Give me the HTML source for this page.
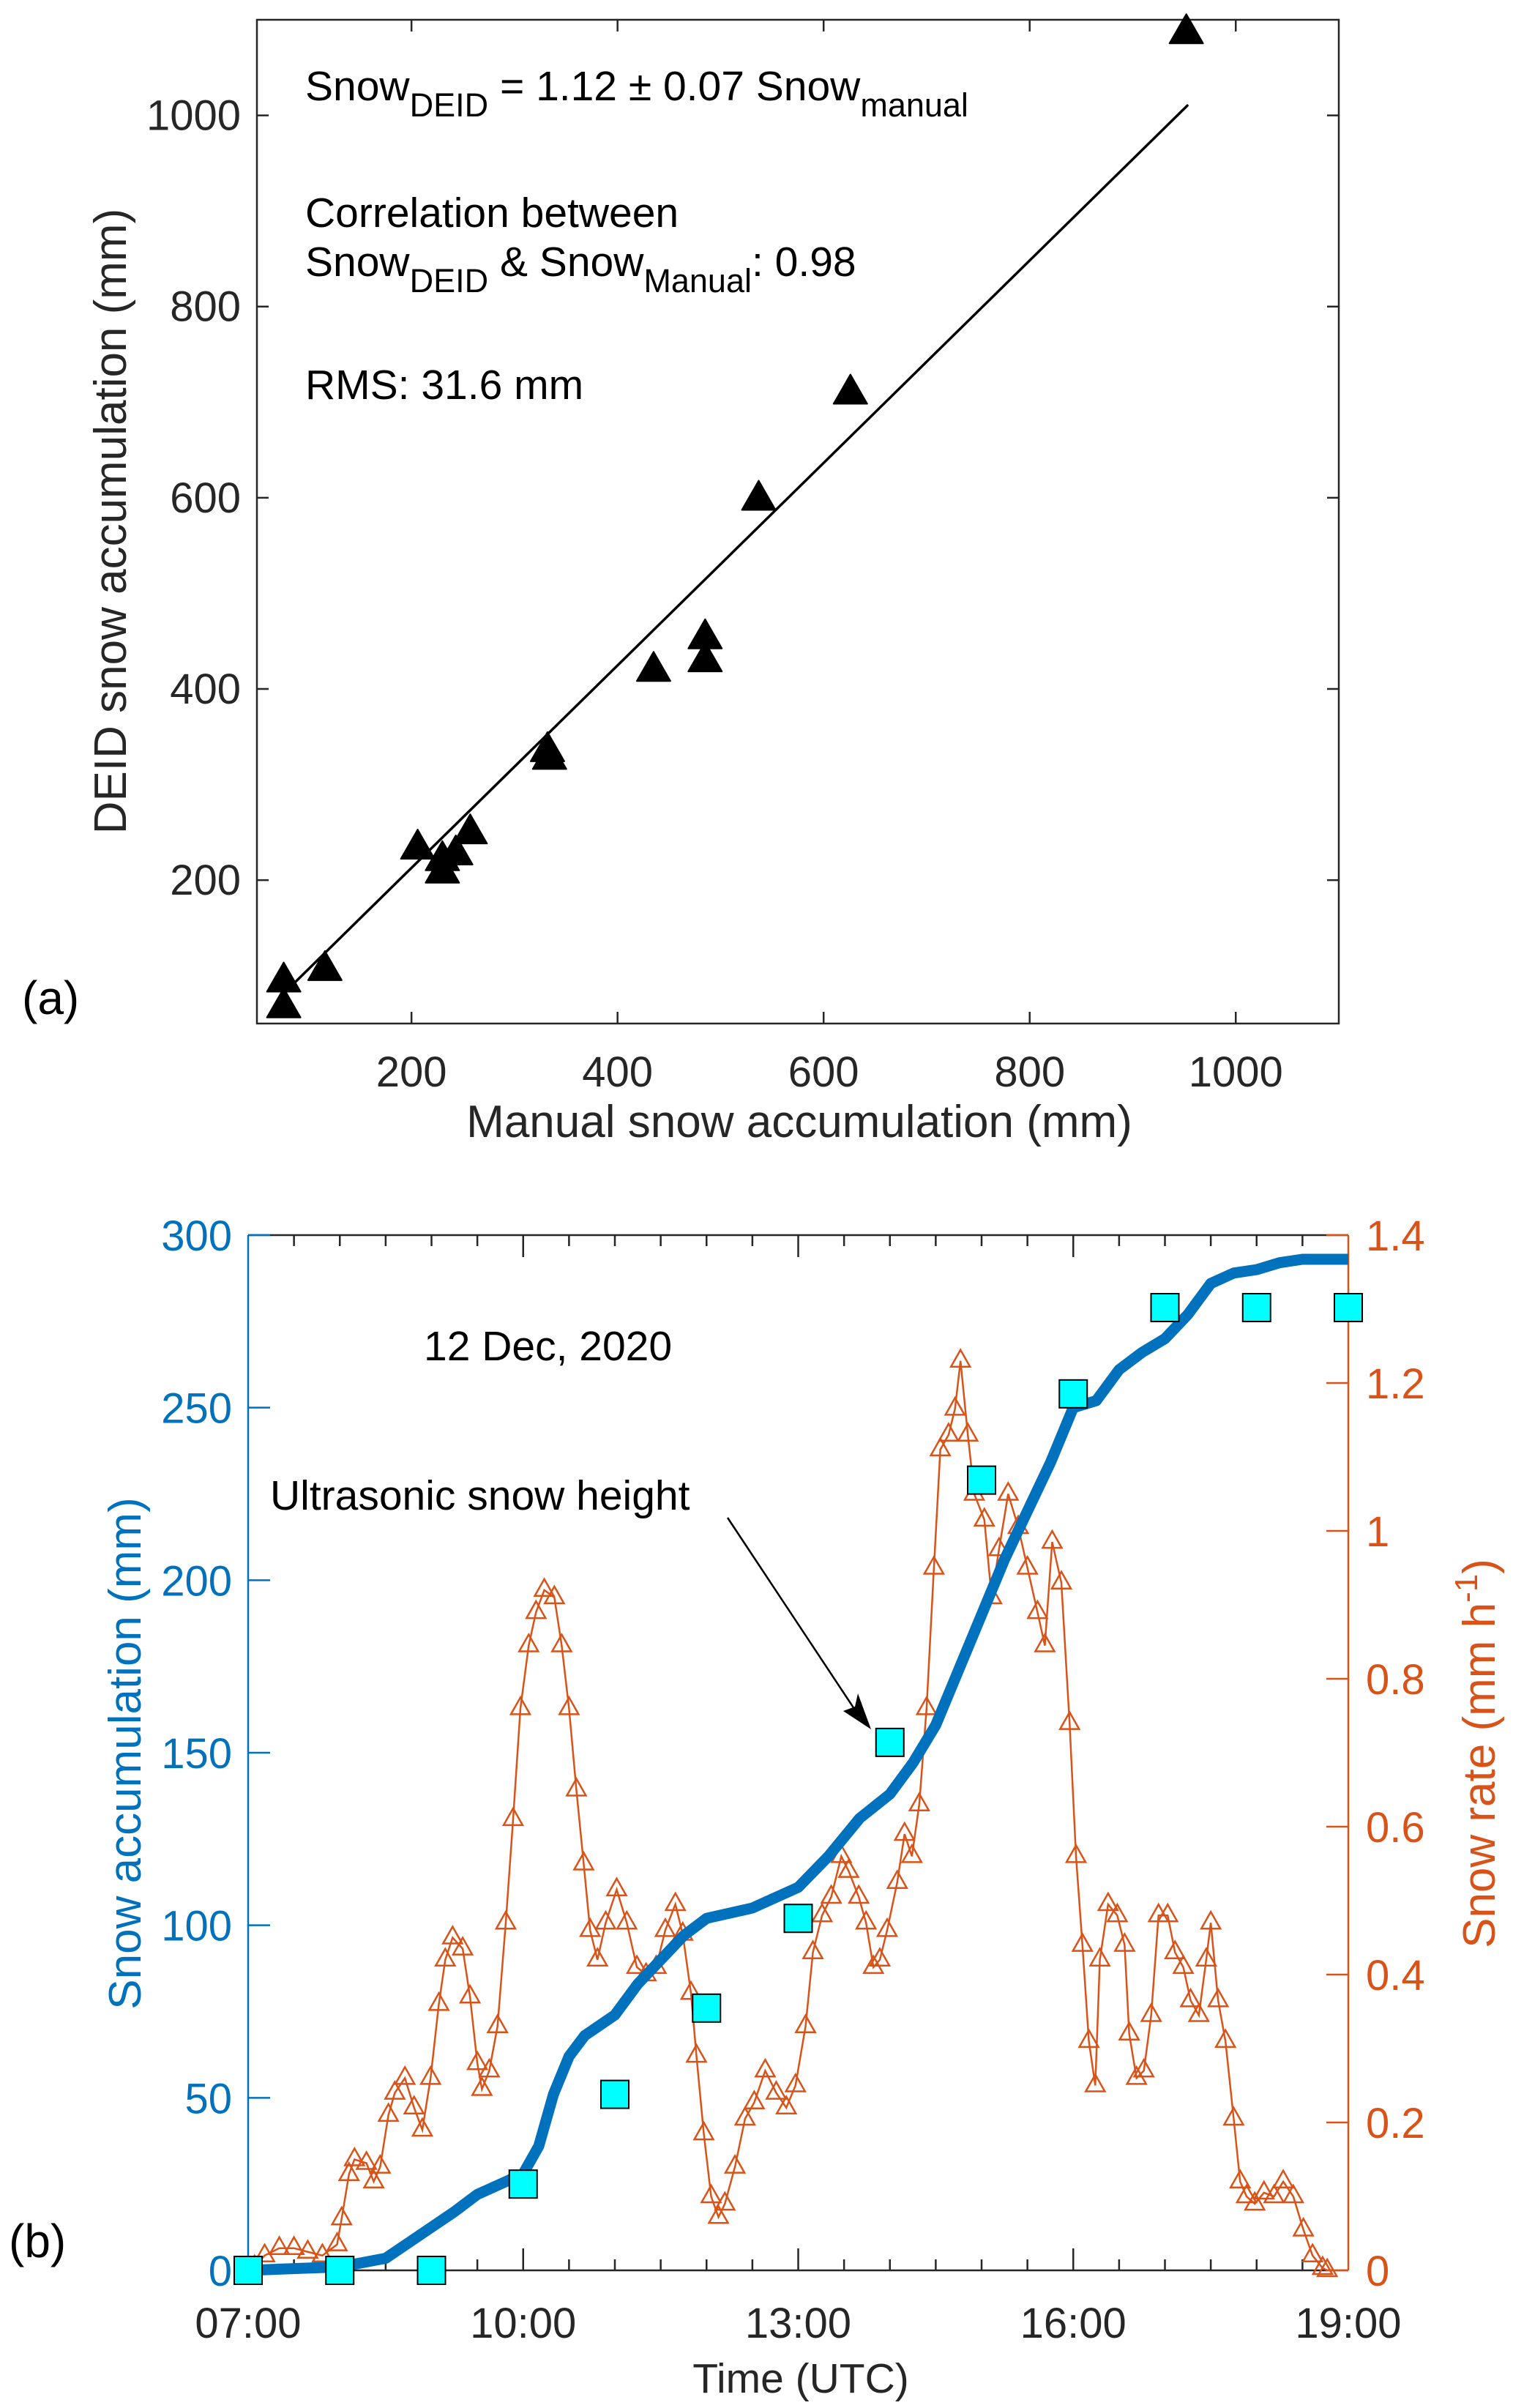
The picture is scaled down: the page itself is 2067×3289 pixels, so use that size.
<!DOCTYPE html>
<html><head><meta charset="utf-8"><style>
html,body{margin:0;padding:0;background:#fff;}
svg{display:block;font-family:"Liberation Sans",sans-serif;}
</style></head><body>
<svg id="fig" width="2067" height="3289" viewBox="0 0 2067 3289" xmlns="http://www.w3.org/2000/svg">
<g id="pa"></g>
<g id="pb"></g>
</svg>
<script>
// ---------- Panel (a) data ----------
const manualX = [952, 626, 537, 435, 485, 485, 332, 334, 206, 257, 243, 230, 230, 116, 76, 76];
const deidY   = [1086, 709, 598, 419, 453, 429, 335, 327, 233, 249, 227, 221, 208, 106, 94, 67];
const fitX = [80, 953];
const fitSlope = 1.059, fitIntercept = 1.0;
const aTicksX = [200, 400, 600, 800, 1000];
const aTicksY = [200, 400, 600, 800, 1000];

// ---------- Panel (b) data ----------
const ultraHours = [7, 8, 9, 10, 11, 12, 13, 14, 15, 16, 17, 18, 19];
const ultraMM    = [0, 0, 0, 25, 51, 76, 102, 153, 229, 254, 279, 279, 279];
const accHours = [7,8,8.5,9,9.25,9.5,9.75,10,10.17,10.33,10.5,10.67,11,11.25,11.5,11.75,12,12.5,13,13.33,13.67,14,14.25,14.5,14.75,15,15.25,15.5,15.75,16,16.25,16.5,16.75,17,17.25,17.5,17.75,18,18.25,18.5,19];
const accMM    = [0,1,3.5,12.5,17,22,25,28,36,51,62,68,74,83,90,97,102,105,111,120,131,138,147,158,174,190,206,220,234,250,252,261,266,270,277,286,289,290,292,293,293];
const rateHours = [7.07,7.18,7.34,7.50,7.65,7.81,7.97,8.02,8.10,8.16,8.29,8.37,8.44,8.53,8.60,8.71,8.81,8.90,8.99,9.08,9.15,9.23,9.34,9.42,9.50,9.55,9.63,9.72,9.81,9.89,9.97,10.06,10.14,10.23,10.34,10.42,10.50,10.58,10.66,10.73,10.81,10.90,11.02,11.13,11.24,11.34,11.45,11.55,11.66,11.74,11.83,11.89,11.97,12.05,12.13,12.20,12.31,12.42,12.52,12.64,12.76,12.87,12.97,13.08,13.16,13.26,13.36,13.47,13.55,13.66,13.74,13.82,13.89,13.97,14.08,14.16,14.24,14.32,14.40,14.48,14.55,14.64,14.71,14.77,14.85,14.92,15.03,15.11,15.19,15.29,15.40,15.50,15.61,15.69,15.77,15.87,15.96,16.03,16.10,16.17,16.24,16.29,16.38,16.48,16.56,16.61,16.69,16.77,16.85,16.93,17.03,17.11,17.20,17.28,17.37,17.45,17.50,17.58,17.66,17.75,17.82,17.89,17.98,18.08,18.19,18.29,18.40,18.51,18.61,18.72,18.77];
const rateVals = [0.005,0.02,0.03,0.03,0.025,0.02,0.035,0.07,0.13,0.15,0.145,0.12,0.14,0.21,0.24,0.26,0.22,0.19,0.26,0.36,0.42,0.45,0.435,0.37,0.28,0.245,0.27,0.33,0.47,0.61,0.76,0.845,0.89,0.92,0.91,0.845,0.76,0.65,0.55,0.46,0.42,0.47,0.515,0.47,0.41,0.40,0.41,0.46,0.495,0.455,0.375,0.29,0.185,0.10,0.072,0.09,0.14,0.205,0.227,0.27,0.24,0.22,0.25,0.33,0.43,0.48,0.505,0.56,0.54,0.505,0.47,0.41,0.42,0.46,0.525,0.59,0.56,0.63,0.76,0.95,1.11,1.13,1.165,1.23,1.13,1.05,1.015,0.91,0.975,1.05,1.005,0.95,0.89,0.845,0.985,0.93,0.74,0.56,0.44,0.31,0.25,0.42,0.495,0.48,0.44,0.32,0.26,0.27,0.345,0.48,0.48,0.43,0.41,0.365,0.345,0.42,0.47,0.365,0.31,0.205,0.12,0.10,0.09,0.105,0.10,0.12,0.10,0.055,0.02,0.003,0];
const bTicksLeft = [0, 50, 100, 150, 200, 250, 300];
const bTicksRight = [0, 0.2, 0.4, 0.6, 0.8, 1, 1.2, 1.4];
const bTickHours = [7, 10, 13, 16, 19];
const bTickLabels = ["07:00", "10:00", "13:00", "16:00", "19:00"];

const NS = "http://www.w3.org/2000/svg";
function mk(parent, tag, attrs, text) {
  const el = document.createElementNS(NS, tag);
  for (const k in attrs) el.setAttribute(k, attrs[k]);
  if (text !== undefined) el.textContent = text;
  parent.appendChild(el);
  return el;
}

// ================= Panel (a) =================
const pa = document.getElementById('pa');
const AL = 351, AR = 1829, AT = 27, AB = 1398;
const ax = v => AL + (v - 50) / 1050 * (AR - AL);
const ay = v => AB - (v - 50) / 1050 * (AB - AT);
let el;
el = mk(pa, 'rect', {x: AL, y: AT, width: AR - AL, height: AB - AT, fill: 'none', stroke: '#262626', 'stroke-width': 2.5});


aTicksX.forEach(t => {
  const x = ax(t);
  el = mk(pa, 'path', {d: `M${x},${AB}v-16M${x},${AT}v16`, stroke: '#262626', 'stroke-width': 2.5});
  
  
  el = mk(pa, 'text', {x: x, y: AB + 86, 'font-size': 58, 'text-anchor': 'middle', fill: '#262626'}, String(t));
  
  
});
aTicksY.forEach(t => {
  const y = ay(t);
  el = mk(pa, 'path', {d: `M${AL},${y}h16M${AR},${y}h-16`, stroke: '#262626', 'stroke-width': 2.5});
  
  
  el = mk(pa, 'text', {x: AL - 22, y: y + 20, 'font-size': 58, 'text-anchor': 'end', fill: '#262626'}, String(t));
  
  
});
el = mk(pa, 'line', {x1: ax(fitX[0]), y1: ay(fitSlope * fitX[0] + fitIntercept), x2: ax(fitX[1]), y2: ay(fitSlope * fitX[1] + fitIntercept), stroke: '#000', 'stroke-width': 3.5, 'stroke-linecap': 'round'});


manualX.forEach((mx, i) => {
  const cx = ax(mx), cy = ay(deidY[i]);
  el = mk(pa, 'path', {d: `M${cx},${cy - 26}L${cx + 23},${cy + 14}L${cx - 23},${cy + 14}Z`, fill: '#000', stroke: '#000', 'stroke-width': 2, 'stroke-linejoin': 'round'});
  
  
});
el = mk(pa, 'text', {x: 417, y: 137, 'font-size': 57, fill: '#000'});
el.innerHTML = 'Snow<tspan font-size="45" dy="22">DEID</tspan><tspan dy="-22"> = 1.12 ± 0.07 Snow</tspan><tspan font-size="45" dy="22">manual</tspan>';


el = mk(pa, 'text', {x: 417, y: 310, 'font-size': 57, fill: '#000'}, 'Correlation between');


el = mk(pa, 'text', {x: 417, y: 377, 'font-size': 57, fill: '#000'});
el.innerHTML = 'Snow<tspan font-size="45" dy="22">DEID</tspan><tspan dy="-22"> &amp; Snow</tspan><tspan font-size="45" dy="22">Manual</tspan><tspan dy="-22">: 0.98</tspan>';


el = mk(pa, 'text', {x: 417, y: 545, 'font-size': 57, fill: '#000'}, 'RMS: 31.6 mm');


el = mk(pa, 'text', {x: 1092, y: 1553, 'font-size': 62, 'text-anchor': 'middle', fill: '#262626'}, 'Manual snow accumulation (mm)');


el = mk(pa, 'text', {x: 0, y: 0, 'font-size': 62, 'text-anchor': 'middle', fill: '#262626', transform: 'translate(172,712) rotate(-90)'}, 'DEID snow accumulation (mm)');


el = mk(pa, 'text', {x: 30, y: 1385, 'font-size': 64, fill: '#000'}, '(a)');



// ================= Panel (b) =================
const pb = document.getElementById('pb');
const BL = 339, BR = 1842, BT = 1687, BB = 3101;
const BLUE = '#0072BD', ORANGE = '#D95319';
const bx = h => BL + (h - 7) / 12 * (BR - BL);
const byL = v => BB - v / 300 * (BB - BT);
const byR = v => BB - v / 1.4 * (BB - BT);
el = mk(pb, 'path', {d: `M${BL},${BT}H${BR}M${BL},${BB}H${BR}`, stroke: '#262626', 'stroke-width': 2.5});


el = mk(pb, 'line', {x1: BL, y1: BT, x2: BL, y2: BB, stroke: BLUE, 'stroke-width': 2.5});


el = mk(pb, 'line', {x1: BR, y1: BT, x2: BR, y2: BB, stroke: ORANGE, 'stroke-width': 2.5});


for (let i = 1; i < 24; i++) {
  const h = 7 + i * 0.5, x = bx(h);
  const len = (i % 6 === 0) ? 30 : 15;
  el = mk(pb, 'path', {d: `M${x},${BB}v-${len}M${x},${BT}v${len}`, stroke: '#262626', 'stroke-width': 2.5});
  
  
}
bTickHours.forEach((h, i) => {
  el = mk(pb, 'text', {x: bx(h), y: BB + 92, 'font-size': 58, 'text-anchor': 'middle', fill: '#262626'}, bTickLabels[i]);
  
  
});
bTicksLeft.forEach(t => {
  const y = byL(t);
  el = mk(pb, 'line', {x1: BL, y1: y, x2: BL + 30, y2: y, stroke: BLUE, 'stroke-width': 2.5});
  
  
  el = mk(pb, 'text', {x: BL - 22, y: y + 21, 'font-size': 58, 'text-anchor': 'end', fill: BLUE}, String(t));
  
  
});
bTicksRight.forEach(t => {
  const y = byR(t);
  el = mk(pb, 'line', {x1: BR, y1: y, x2: BR - 30, y2: y, stroke: ORANGE, 'stroke-width': 2.5});
  
  
  el = mk(pb, 'text', {x: BR + 24, y: y + 21, 'font-size': 58, 'text-anchor': 'start', fill: ORANGE}, String(t));
  
  
});
// snow rate series
const ratePts = rateVals.map((v, i) => [bx(rateHours[i]), byR(v)]);
el = mk(pb, 'polyline', {points: ratePts.map(p => p.join(',')).join(' '), fill: 'none', stroke: ORANGE, 'stroke-width': 2.5});


ratePts.forEach(p => {
  el = mk(pb, 'path', {d: `M${p[0]},${p[1] - 15}L${p[0] + 13},${p[1] + 8}L${p[0] - 13},${p[1] + 8}Z`, fill: 'none', stroke: ORANGE, 'stroke-width': 2.5});
  
  
});
// accumulation
el = mk(pb, 'polyline', {points: accHours.map((h, i) => bx(h) + ',' + byL(accMM[i])).join(' '), fill: 'none', stroke: BLUE, 'stroke-width': 15, 'stroke-linejoin': 'round'});


// ultrasonic squares
ultraHours.forEach((h, i) => {
  const x = bx(h), y = byL(ultraMM[i]);
  el = mk(pb, 'rect', {x: x - 19, y: y - 19, width: 38, height: 38, fill: '#00FFFF', stroke: '#000', 'stroke-width': 2});
  
  
});
el = mk(pb, 'text', {x: 579, y: 1858, 'font-size': 57, fill: '#000'}, '12 Dec, 2020');


el = mk(pb, 'text', {x: 369, y: 2062, 'font-size': 57, fill: '#000'}, 'Ultrasonic snow height');


el = mk(pb, 'line', {x1: 994, x2: 1175, y1: 2073, y2: 2346, stroke: '#000', 'stroke-width': 2.5});


el = mk(pb, 'path', {d: 'M1190,2362L1152,2337L1168,2331L1172,2313Z', fill: '#000'});


el = mk(pb, 'text', {x: 1094, y: 3268, 'font-size': 57, 'text-anchor': 'middle', fill: '#262626'}, 'Time (UTC)');


el = mk(pb, 'text', {x: 0, y: 0, 'font-size': 62, 'text-anchor': 'middle', fill: BLUE, transform: 'translate(192,2395) rotate(-90)'}, 'Snow accumulation (mm)');


el = mk(pb, 'text', {x: 0, y: 0, 'font-size': 62, 'text-anchor': 'middle', fill: ORANGE, transform: 'translate(2042,2395) rotate(-90)'});
el.innerHTML = 'Snow rate (mm h<tspan font-size="44" dy="-24">-1</tspan><tspan dy="24">)</tspan>';


el = mk(pb, 'text', {x: 12, y: 3083, 'font-size': 64, fill: '#000'}, '(b)');


</script>
</body></html>
